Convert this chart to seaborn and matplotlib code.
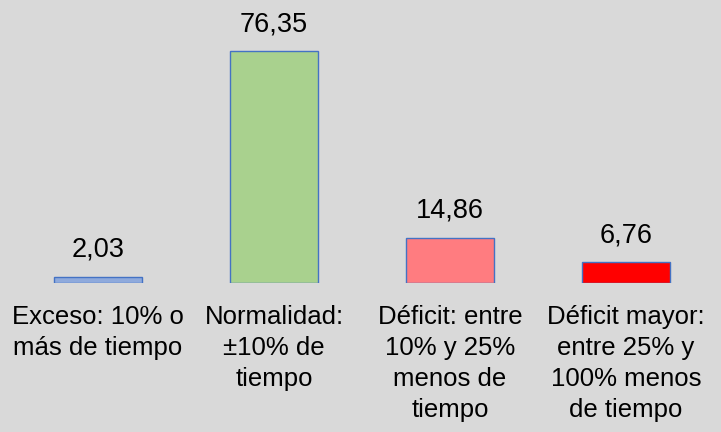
import matplotlib
matplotlib.use('Agg')
import matplotlib.pyplot as plt
import seaborn as sns

categorias = ['Exceso: 10% o\nmás de tiempo',
              'Normalidad:\n±10% de\ntiempo',
              'Déficit: entre\n10% y 25%\nmenos de\ntiempo',
              'Déficit mayor:\nentre 25% y\n100% menos\nde tiempo']
valores = [2.03, 76.35, 14.86, 6.76]
colores = ['#8FAADC', '#A9D18E', '#FF7C80', '#FF0000']

sns.set_style('white')
plt.rcParams['font.family'] = ['Liberation Sans', 'DejaVu Sans']
plt.rcParams['text.color'] = 'black'
plt.rcParams['xtick.color'] = 'black'

fondo = '#D9D9D9'
fig = plt.figure(figsize=(7.21, 4.32), dpi=100, facecolor=fondo)
ax = fig.add_axes([10 / 721, 1 - 283 / 432, 704 / 721, 283 / 432])
ax.set_facecolor(fondo)

sns.barplot(x=categorias, y=valores, hue=categorias, palette=colores, saturation=1,
            edgecolor='#4472C4', linewidth=1.0, width=0.5, legend=False, ax=ax)

for cont in ax.containers:
    ax.bar_label(cont, labels=[f'{v:.2f}'.replace('.', ',') for v in cont.datavalues],
                 padding=10, fontsize=19.5, color='black')

ax.set_xlim(-0.5, 3.5)
ax.set_ylim(0, 283 / 3.04)
for s in ax.spines.values():
    s.set_visible(False)
ax.set_yticks([])
ax.set_xlabel('')
ax.set_ylabel('')
ax.tick_params(axis='x', length=0, pad=16, labelsize=18.5, labelcolor='black')
for t in ax.get_xticklabels():
    t.set_linespacing(1.36)

fig.savefig('out.png', dpi=100, facecolor=fondo)
